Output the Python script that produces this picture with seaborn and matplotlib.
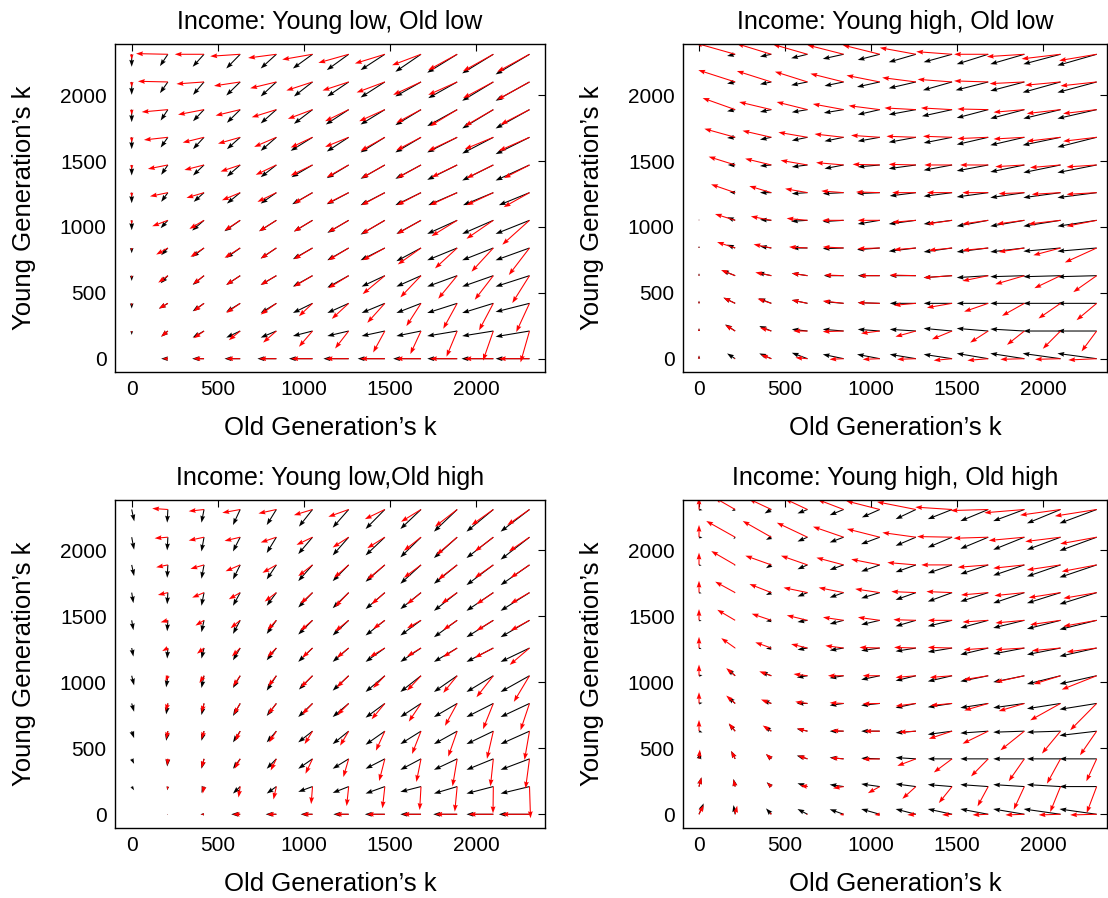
import numpy as np
import matplotlib
matplotlib.use("Agg")
import matplotlib.pyplot as plt
import seaborn as sns

sns.set_theme(style="white")
plt.rcParams['font.family'] = ['Liberation Sans', 'DejaVu Sans']
plt.rcParams['text.color'] = 'black'
plt.rcParams['axes.labelcolor'] = 'black'
plt.rcParams['xtick.color'] = 'black'
plt.rcParams['ytick.color'] = 'black'

# grid of capital levels (columns: old k, rows: young k, listed top row first)
x_grid = [0, 210, 420, 630, 840, 1050, 1260, 1470, 1680, 1890, 2100, 2310]
y_grid = [2310, 2100, 1890, 1680, 1470, 1260, 1050, 840, 630, 420, 210, 0]
tick_vals = [0, 500, 1000, 1500, 2000]
titles = ["Income: Young low, Old low", "Income: Young high, Old low",
          "Income: Young low,Old high", "Income: Young high, Old high"]
x_label = "Old Generation\u2019s k"
y_label = "Young Generation\u2019s k"

# ---------- Panel 1: Young low, Old low ----------
p1_black_u = [
    [0, -46, -66, -81, -91, -114, -127, -141, -149, -174, -181, -197],
    [0, -46, -64, -81, -91, -108, -124, -141, -149, -168, -181, -197],
    [0, -42, -64, -77, -91, -108, -133, -141, -149, -174, -181, -197],
    [0, -42, -64, -77, -91, -127, -127, -141, -149, -174, -181, -197],
    [0, -39, -64, -77, -91, -122, -127, -141, -149, -174, -181, -197],
    [0, -39, -60, -77, -91, -118, -127, -141, -149, -168, -176, -178],
    [0, -42, -69, -91, -100, -108, -124, -141, -143, -174, -181, -197],
    [0, -39, -69, -81, -91, -114, -124, -141, -143, -174, -181, -197],
    [0, -42, -66, -81, -91, -114, -124, -135, -143, -174, -181, -197],
    [0, -52, -66, -81, -91, -114, -124, -135, -143, -174, -181, -197],
    [0, -39, -66, -81, -91, -114, -124, -135, -143, -174, -181, -197],
    [0, -39, -69, -91, -110, -137, -147, -158, -162, -174, -185, -197],
]
p1_black_v = [
    [-95, -90, -95, -108, -108, -108, -120, -120, -133, -140, -145, -153],
    [-98, -85, -98, -103, -110, -110, -110, -118, -110, -123, -143, -143],
    [-95, -83, -88, -100, -105, -108, -113, -113, -118, -125, -143, -143],
    [-90, -78, -90, -90, -103, -103, -108, -115, -115, -115, -123, -128],
    [-80, -75, -80, -88, -93, -93, -100, -105, -105, -113, -118, -118],
    [-80, -70, -70, -83, -83, -88, -88, -95, -95, -95, -95, -95],
    [-75, -60, -78, -83, -83, -85, -95, -108, -103, -103, -103, -103],
    [-40, -55, -68, -75, -80, -85, -93, -93, -100, -93, -93, -93],
    [-40, -58, -70, -70, -70, -83, -90, -83, -83, -83, -83, -83],
    [-40, -40, -60, -65, -73, -73, -73, -73, -73, -73, -73, -65],
    [-30, -43, -50, -50, -50, -38, -38, -38, -38, -38, -38, -43],
    [0, 0, 0, 0, 0, 0, 0, 0, 0, 0, 0, 0],
]
p1_red_u = [
    [0, -185, -170, -174, -164, -176, -176, -174, -168, -168, -176, -187],
    [0, -174, -160, -152, -152, -152, -152, -164, -162, -168, -176, -187],
    [0, -152, -151, -143, -143, -143, -137, -149, -143, -158, -166, -168],
    [0, -139, -124, -129, -129, -127, -137, -141, -143, -168, -166, -178],
    [0, -116, -114, -114, -120, -127, -127, -135, -139, -149, -156, -149],
    [0, -104, -102, -106, -110, -108, -127, -135, -139, -158, -156, -150],
    [0, -91, -85, -91, -100, -108, -118, -135, -139, -149, -156, -158],
    [0, -68, -79, -91, -91, -108, -118, -129, -135, -129, -127, -120],
    [0, -56, -64, -81, -91, -108, -118, -129, -120, -110, -108, -100],
    [0, -52, -60, -81, -91, -79, -98, -102, -85, -81, -83, -77],
    [0, -39, -60, -66, -77, -79, -79, -68, -62, -62, -60, -52],
    [0, -30, -62, -82, -100, -124, -134, -143, -147, -158, -168, -178],
]
p1_red_v = [
    [-40, 5, 0, -15, -28, -40, -65, -70, -83, -120, -128, -133],
    [-40, 5, -15, -30, -48, -65, -65, -80, -98, -98, -123, -135],
    [-40, -18, -38, -45, -58, -70, -88, -88, -100, -125, -125, -113],
    [-40, -20, -40, -48, -73, -78, -73, -103, -98, -103, -90, -103],
    [-35, -30, -38, -50, -75, -80, -93, -100, -100, -93, -100, -100],
    [-35, -28, -40, -58, -70, -83, -83, -95, -95, -95, -95, -110],
    [-30, -45, -65, -78, -83, -85, -90, -103, -103, -120, -140, -185],
    [-20, -50, -68, -75, -80, -85, -93, -93, -125, -155, -180, -205],
    [-20, -53, -65, -70, -70, -83, -95, -140, -165, -175, -183, -208],
    [-20, -40, -60, -73, -85, -98, -118, -148, -173, -193, -205, -218],
    [-15, -43, -55, -70, -88, -120, -133, -163, -175, -195, -225, -238],
    [0, 0, 0, 0, 0, 0, 0, 0, 0, 0, 0, 0],
]

# ---------- Panel 2: Young high, Old low ----------
p2_black_u = [
    [0, -47, -66, -95, -121, -128, -158, -165, -183, -198, -216, -228],
    [0, -47, -66, -95, -111, -132, -158, -169, -189, -198, -220, -228],
    [0, -47, -66, -91, -115, -128, -158, -175, -183, -198, -216, -228],
    [0, -47, -66, -91, -111, -128, -158, -165, -183, -198, -220, -228],
    [0, -43, -66, -91, -111, -128, -158, -165, -183, -198, -216, -228],
    [0, -33, -66, -91, -121, -132, -152, -165, -183, -198, -216, -228],
    [0, -47, -66, -95, -121, -128, -158, -165, -183, -198, -216, -228],
    [0, -47, -66, -91, -121, -132, -158, -165, -183, -198, -216, -228],
    [0, -76, -80, -91, -115, -128, -152, -165, -183, -198, -216, -228],
    [0, -68, -74, -91, -115, -128, -152, -165, -183, -198, -216, -228],
    [0, -58, -70, -91, -121, -128, -152, -165, -183, -198, -216, -228],
    [0, -47, -70, -91, -121, -132, -152, -165, -183, -198, -220, -228],
]
p2_black_v = [
    [0, -13, -18, -30, -35, -43, -60, -60, -75, -75, -75, -85],
    [0, -13, -18, -25, -30, -38, -48, -63, -63, -68, -80, -80],
    [0, -13, -18, -20, -25, -38, -38, -50, -63, -68, -68, -68],
    [0, -5, -18, -25, -30, -30, -38, -43, -55, -60, -60, -75],
    [0, 0, -8, -15, -28, -15, -28, -40, -45, -53, -58, -58],
    [0, 5, 0, -8, -8, -8, -25, -28, -33, -38, -38, -38],
    [8, 23, 5, -8, -10, -28, -28, -28, -45, -45, -45, -45],
    [15, 25, 13, 0, -5, -13, -25, -30, -30, -30, -25, -25],
    [18, 40, 23, 18, 0, 0, 0, -15, -15, -8, -8, -8],
    [20, 43, 38, 25, 13, 5, 0, 0, 0, 0, 0, 0],
    [22, 50, 38, 13, 13, 13, 13, 20, 20, 15, 0, 0],
    [25, 40, 40, 45, 33, 33, 33, 33, 40, 40, 40, 40],
]
p2_red_u = [
    [0, -230, -200, -200, -210, -215, -210, -208, -198, -218, -226, -218],
    [0, -214, -200, -189, -193, -193, -196, -200, -198, -202, -206, -210],
    [0, -189, -187, -179, -179, -181, -183, -181, -179, -179, -196, -195],
    [0, -179, -167, -169, -169, -167, -171, -169, -179, -179, -196, -195],
    [0, -154, -152, -156, -160, -158, -158, -161, -163, -169, -177, -175],
    [0, -140, -128, -130, -130, -138, -138, -146, -150, -150, -167, -175],
    [0, -117, -119, -121, -124, -128, -138, -146, -150, -160, -187, -175],
    [0, -105, -103, -107, -121, -128, -128, -136, -150, -150, -158, -185],
    [0, -82, -93, -91, -111, -119, -152, -165, -150, -169, -152, -136],
    [0, -68, -80, -91, -121, -128, -128, -146, -140, -130, -128, -117],
    [0, -58, -66, -82, -121, -109, -119, -117, -105, -101, -103, -88],
    [0, -10, -60, -70, -82, -99, -109, -107, -121, -140, -148, -165],
]
p2_red_v = [
    [0, 85, 80, 75, 70, 70, 50, 20, 0, -18, -35, -48],
    [0, 90, 83, 78, 63, 50, 33, 20, 8, -13, -25, -30],
    [0, 88, 58, 58, 43, 30, 13, 13, 5, -20, -30, -30],
    [0, 65, 50, 38, 25, 15, 8, 8, -10, -13, -30, -30],
    [0, 63, 48, 35, 18, 5, 5, 0, 0, -13, -20, -15],
    [0, 63, 50, 30, 13, 5, 0, 0, 0, -8, -13, -13],
    [6, 48, 30, 15, 0, 0, -15, -28, -28, -28, -28, -45],
    [12, 45, 28, 8, 8, -5, -13, -18, -18, -30, -55, -110],
    [15, 43, 25, 18, 5, 0, 5, -15, -40, -65, -95, -125],
    [18, 43, 35, 25, 18, 5, -15, -33, -63, -95, -115, -128],
    [20, 45, 25, 0, -5, -18, -43, -63, -88, -105, -135, -155],
    [22, 0, 30, 8, -5, -5, -5, -13, -13, -5, -5, -10],
]

# ---------- Panel 3: Young low, Old high ----------
p3_black_u = [
    [15, -4, -15, -42, -56, -79, -93, -112, -120, -135, -156, -168],
    [14, -4, -15, -42, -56, -83, -93, -112, -120, -135, -156, -168],
    [14, -4, -15, -42, -56, -83, -93, -112, -120, -135, -156, -168],
    [10, -4, -15, -42, -56, -83, -93, -112, -120, -135, -156, -168],
    [10, -4, -15, -42, -56, -83, -93, -112, -120, -135, -156, -168],
    [10, -4, -15, -42, -56, -83, -93, -112, -120, -135, -156, -168],
    [14, -10, -15, -42, -56, -79, -93, -112, -120, -135, -156, -168],
    [14, -10, -15, -42, -56, -83, -93, -112, -120, -135, -156, -168],
    [14, -10, -15, -42, -56, -83, -93, -112, -120, -135, -156, -168],
    [14, -4, -15, -42, -56, -83, -93, -112, -120, -135, -156, -168],
    [14, -4, -15, -42, -56, -83, -93, -112, -120, -135, -156, -168],
    [0, -5, -21, -52, -62, -69, -89, -116, -120, -139, -156, -178],
]
p3_black_v = [
    [-90, -100, -100, -118, -118, -130, -138, -148, -148, -168, -168, -168],
    [-95, -100, -108, -108, -120, -128, -138, -138, -153, -158, -158, -170],
    [-85, -98, -105, -110, -110, -123, -123, -128, -143, -143, -153, -153],
    [-80, -88, -100, -100, -100, -113, -118, -125, -125, -138, -138, -138],
    [-75, -83, -90, -103, -103, -108, -115, -115, -115, -128, -128, -128],
    [-65, -80, -80, -93, -93, -105, -105, -105, -105, -105, -105, -105],
    [-73, -88, -93, -93, -113, -105, -113, -123, -123, -123, -123, -123],
    [-63, -83, -88, -95, -95, -103, -103, -108, -103, -103, -103, -103],
    [-53, -73, -73, -85, -85, -85, -98, -103, -98, -98, -98, -98],
    [-38, -58, -75, -75, -75, -75, -75, -75, -83, -83, -83, -83],
    [-28, -28, -48, -53, -53, -40, -48, -53, -40, -53, -53, -53],
    [0, 0, 0, 0, 0, 0, 0, 0, 0, 0, 0, 0],
]
p3_red_u = [
    [0, -91, -89, -104, -104, -108, -118, -116, -116, -129, -127, -129],
    [0, -77, -89, -91, -91, -93, -93, -102, -100, -120, -108, -120],
    [0, -68, -79, -85, -81, -83, -85, -102, -100, -110, -108, -110],
    [0, -58, -69, -66, -68, -70, -79, -77, -81, -91, -98, -110],
    [0, -42, -50, -56, -52, -70, -79, -68, -81, -81, -98, -110],
    [0, -33, -41, -48, -52, -60, -69, -87, -81, -81, -108, -115],
    [0, -14, -27, -42, -48, -69, -69, -68, -81, -81, -98, -91],
    [0, -14, -15, -37, -48, -60, -66, -77, -71, -71, -60, -52],
    [0, -10, -15, -29, -42, -46, -50, -52, -52, -52, -37, -29],
    [0, -4, -15, -33, -33, -41, -31, -33, -27, -27, -17, -23],
    [0, -4, -8, -10, -17, -8, -12, -14, -8, -14, -2, 6],
    [0, -4, -18, -44, -55, -62, -80, -105, -108, -127, -143, -163],
]
p3_red_v = [
    [0, 8, -13, -25, -30, -43, -55, -73, -93, -130, -118, -118],
    [0, -8, -25, -28, -40, -58, -78, -83, -103, -133, -108, -108],
    [0, -18, -30, -48, -60, -85, -98, -110, -98, -110, -98, -98],
    [0, -18, -38, -50, -68, -83, -108, -88, -88, -83, -88, -83],
    [0, -15, -40, -60, -73, -78, -83, -65, -60, -73, -78, -78],
    [0, -23, -43, -63, -68, -73, -73, -68, -63, -68, -73, -128],
    [0, -43, -55, -80, -80, -88, -88, -93, -113, -130, -163, -198],
    [0, -58, -70, -83, -83, -83, -88, -120, -138, -170, -195, -203],
    [0, -60, -60, -73, -85, -98, -110, -148, -173, -193, -210, -218],
    [0, -50, -70, -75, -88, -113, -138, -168, -175, -208, -208, -225],
    [0, -25, -53, -83, -98, -133, -148, -165, -178, -190, -203, -240],
    [0, 0, 0, 0, 0, 0, 0, 0, 0, 0, 0, 0],
]

# ---------- Panel 4: Young high, Old high ----------
p4_black_u = [
    [20, -20, -39, -58, -81, -104, -118, -141, -162, -181, -195, -216],
    [20, -10, -31, -58, -81, -109, -118, -141, -162, -181, -195, -216],
    [15, -4, -31, -58, -81, -108, -118, -141, -162, -181, -195, -216],
    [15, -4, -31, -58, -81, -108, -118, -141, -162, -181, -195, -216],
    [15, 0, -31, -58, -81, -108, -118, -141, -162, -181, -195, -216],
    [15, 0, -31, -58, -81, -108, -118, -141, -162, -181, -195, -216],
    [20, -45, -60, -62, -81, -108, -118, -141, -162, -181, -195, -216],
    [20, -42, -50, -62, -81, -108, -118, -141, -162, -181, -195, -216],
    [20, -37, -41, -62, -81, -108, -118, -141, -162, -181, -195, -216],
    [10, -23, -31, -62, -81, -108, -118, -141, -162, -181, -195, -216],
    [14, -10, -27, -58, -81, -108, -118, -141, -162, -181, -195, -216],
    [27, -10, -31, -58, -81, -108, -118, -141, -162, -181, -214, -216],
]
p4_black_v = [
    [-5, -10, -30, -30, -43, -60, -73, -73, -88, -88, -105, -105],
    [-5, -15, -20, -33, -40, -53, -65, -78, -88, -95, -95, -103],
    [-5, -8, -25, -33, -38, -50, -55, -63, -70, -80, -88, -95],
    [-5, -5, -18, -30, -38, -43, -55, -68, -68, -80, -80, -88],
    [-5, 0, -8, -13, -28, -33, -45, -45, -58, -58, -65, -70],
    [-8, -5, -5, -13, -18, -20, -25, -30, -50, -45, -50, -63],
    [5, 50, 28, -13, -18, -30, -38, -43, -43, -48, -63, -63],
    [5, 48, 23, 0, -15, -15, -33, -28, -33, -33, -40, -45],
    [-10, 55, 38, 18, 0, 0, -13, -25, -15, -8, -8, -33],
    [50, 60, 35, 25, 10, 5, 10, 0, 0, 0, 0, 0],
    [70, 58, 33, 25, 15, 20, 20, 15, 15, 15, 15, 0],
    [83, 70, 45, 40, 38, 40, 40, 40, 40, 40, 40, 40],
]
p4_red_u = [
    [0, -120, -130, -130, -150, -195, -226, -214, -218, -233, -235, -243],
    [0, -168, -166, -178, -178, -191, -195, -203, -201, -207, -205, -212],
    [0, -139, -151, -154, -158, -166, -166, -179, -177, -181, -195, -203],
    [0, -116, -127, -139, -145, -143, -143, -149, -158, -174, -185, -193],
    [0, -104, -114, -120, -120, -127, -131, -141, -149, -168, -176, -193],
    [0, -81, -93, -95, -106, -118, -127, -141, -143, -168, -166, -174],
    [0, -52, -70, -81, -91, -99, -118, -129, -143, -168, -156, -203],
    [0, -52, -60, -71, -81, -99, -118, -125, -139, -149, -176, -154],
    [0, -37, -50, -60, -70, -89, -99, -135, -149, -139, -108, -97],
    [5, -23, -31, -55, -75, -99, -108, -106, -100, -91, -79, -60],
    [14, -10, -25, -42, -62, -69, -79, -77, -62, -62, -60, -58],
    [27, 12, -10, -10, -23, -31, -50, -58, -91, -110, -127, -154],
]
p4_red_v = [
    [90, 90, 80, 80, 75, 65, 58, 18, -8, -25, -43, -50],
    [93, 123, 123, 110, 80, 63, 35, 5, -8, -25, -33, -50],
    [93, 105, 70, 70, 55, 43, 18, 0, -18, -25, -38, -50],
    [90, 83, 65, 38, 38, 28, 8, 8, -18, -23, -38, -43],
    [85, 80, 50, 38, 23, 23, 5, 0, -13, -20, -33, -45],
    [85, 75, 43, 30, 18, 5, 5, 5, -13, -13, -20, -30],
    [85, 58, 33, 13, 0, 0, -13, -13, -30, -48, -63, -105],
    [85, 60, 30, 13, 5, -3, -20, -15, -53, -58, -128, -203],
    [85, 60, 43, 20, 5, 0, -8, -58, -95, -145, -170, -183],
    [70, 60, 38, 25, 8, -3, -53, -103, -133, -170, -188, -170],
    [70, 55, 30, 8, -13, -50, -93, -125, -150, -175, -193, -200],
    [70, 65, 15, 0, -5, -5, -5, -5, -5, -5, -5, -5],
]

panels = [
    (p1_black_u, p1_black_v, p1_red_u, p1_red_v),
    (p2_black_u, p2_black_v, p2_red_u, p2_red_v),
    (p3_black_u, p3_black_v, p3_red_u, p3_red_v),
    (p4_black_u, p4_black_v, p4_red_u, p4_red_v),
]

W, H = 1108, 898
fig = plt.figure(figsize=(W / 100, H / 100), dpi=100)
fig.patch.set_facecolor("white")

# axes boxes in pixels: left, top, right, bottom
boxes = [(115, 44, 545, 372), (683, 44, 1107, 372),
         (115, 500, 545, 828), (683, 500, 1107, 828)]
xlims = [(-97, 2400), (-93, 2370), (-97, 2400), (-93, 2370)]
ylims = [(-101, 2388), (-101, 2388), (-104, 2382), (-104, 2382)]

X, Y = np.meshgrid(x_grid, y_grid)
qkw = dict(angles="xy", scale_units="xy", scale=1, width=0.0025,
           headwidth=4.5, headlength=6.5, headaxislength=5.8, minshaft=1,
           minlength=0.05)

for i, (bu, bv, ru, rv) in enumerate(panels):
    l, t, r, b = boxes[i]
    ax = fig.add_axes([l / W, 1 - b / H, (r - l) / W, (b - t) / H])
    ax.set_facecolor("white")
    ax.quiver(X, Y, np.array(bu, float), np.array(bv, float), color="black", **qkw)
    ax.quiver(X, Y, np.array(ru, float), np.array(rv, float), color="red", **qkw)
    ax.set_xlim(*xlims[i])
    ax.set_ylim(*ylims[i])
    ax.set_xticks(tick_vals)
    ax.set_yticks(tick_vals)
    ax.tick_params(direction="in", top=True, right=True, length=5, width=0.8,
                   labelsize=15, colors="black", pad=6)
    for s in ax.spines.values():
        s.set_visible(True)
        s.set_color("black")
        s.set_linewidth(1.0)
    ax.set_title(titles[i], fontsize=18, pad=11, color="black")
    ax.set_xlabel(x_label, fontsize=18.5, labelpad=12, color="black")
    ax.set_ylabel(y_label, fontsize=18.5, labelpad=17, color="black")

fig.savefig("out.png", dpi=100, facecolor="white")
